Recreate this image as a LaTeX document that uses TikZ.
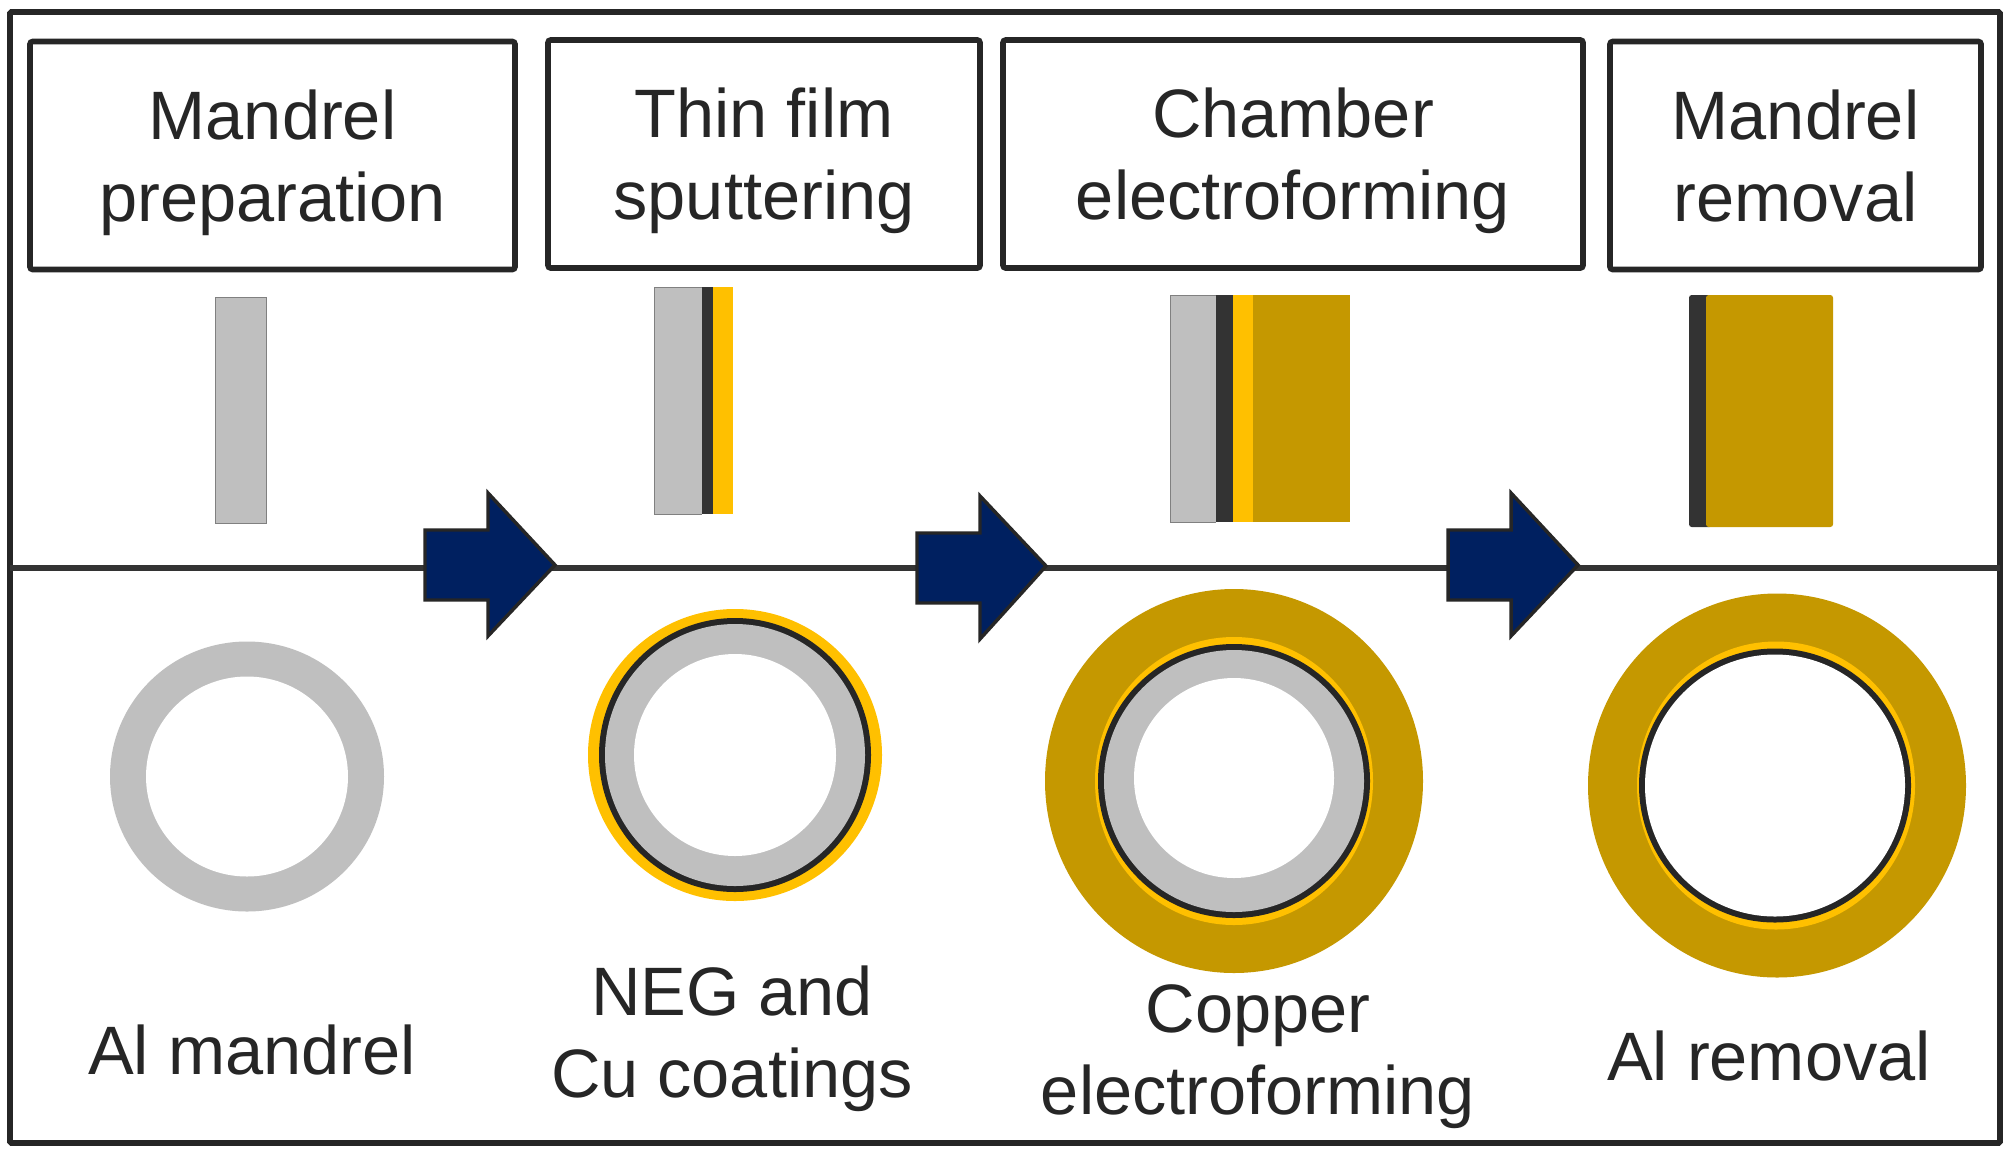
\documentclass[tikz,border=0pt]{standalone}
\usepackage{fontspec}
\setmainfont{Liberation Sans}
\definecolor{mandrelgrey}{RGB}{191,191,191}
\definecolor{negdark}{RGB}{51,51,51}
\definecolor{cuyellow}{RGB}{255,192,0}
\definecolor{cubrown}{RGB}{197,152,0}
\definecolor{arrowblue}{RGB}{0,32,96}
\definecolor{textdark}{RGB}{38,38,38}
\newcommand{\liftline}{\rule{0pt}{48pt}}
\tikzset{
    stepbox/.style={draw=black!85,line width=4.2pt,rounded corners=2pt,fill=white,inner sep=0pt,align=center,text=textdark,font=\fontsize{51.4}{61.5}\selectfont},
    caption/.style={inner sep=0pt,align=center,text=textdark,font=\fontsize{51.4}{61.5}\selectfont},
    flowarrow/.style={fill=arrowblue,draw=black!85,line width=2.6pt,miter limit=10}
}
\begin{document}
\begin{tikzpicture}[
            x=0.75pt,
            y=0.75pt,
            yscale=-1,
            xscale=1
        ]
            \path [use as bounding box,fill=white] (0,0) rectangle (2008,1154);
            \draw [draw=black!85,line width=4.2pt,rounded corners=1pt] (10,12) rectangle (2000,1143);

            % process boxes
            \node (prep) [stepbox,minimum width=363.75pt,minimum height=171pt] at (272.5,155.5) {\liftline Mandrel\\preparation};
            \node (sputter) [stepbox,minimum width=324pt,minimum height=171pt] at (764,154) {\liftline Thin film\\sputtering};
            \node (forming) [stepbox,minimum width=435pt,minimum height=171pt] at (1293,154) {\liftline Chamber\\electroforming};
            \node (removal) [stepbox,minimum width=278.25pt,minimum height=171pt] at (1795.5,155.5) {Mandrel\\removal};

            % divider
            \coordinate (lineL) at (10,567.5);
            \coordinate (lineR) at (2000,567.5);
            \draw [draw=negdark,line width=4.5pt] (lineL) -- (lineR);

            % side views
            \draw [fill=mandrelgrey,draw=gray,line width=0.75pt] (215,297) rectangle (266,523);

            \fill [mandrelgrey] (654,287) rectangle (702,514);
            \fill [negdark] (702,287) rectangle (713,514);
            \fill [cuyellow] (713,287) rectangle (733,514);
            \draw [gray,line width=0.75pt] (702,287) -- (654,287) -- (654,514) -- (702,514);

            \fill [mandrelgrey] (1170,295) rectangle (1216,522);
            \fill [negdark] (1216,295) rectangle (1233,522);
            \fill [cuyellow] (1233,295) rectangle (1253,522);
            \fill [cubrown] (1253,295) rectangle (1350,522);
            \draw [gray,line width=0.75pt] (1216,295) -- (1170,295) -- (1170,522) -- (1216,522);

            \fill [negdark,rounded corners=2pt] (1689,295) rectangle (1712,527);
            \fill [cubrown,rounded corners=2pt] (1706,295) rectangle (1833,527);

            % arrows
            \draw [flowarrow] (425,530) -- (488,530) -- (488,493) -- (555,565) -- (488,636) -- (488,600) -- (425,600) -- cycle;
            \draw [flowarrow] (917,533) -- (980,533) -- (980,496) -- (1046,566) -- (980,639) -- (980,603) -- (917,603) -- cycle;
            \draw [flowarrow] (1448,530) -- (1511,530) -- (1511,493) -- (1578,565) -- (1511,636) -- (1511,600) -- (1448,600) -- cycle;

            % sections
            \fill [mandrelgrey] (247,776.5) circle [x radius=137,y radius=135];
            \fill [white] (247,776.5) circle [x radius=101,y radius=100];

            \fill [cuyellow] (735,755) circle [x radius=147,y radius=146];
            \fill [black!85] (735,755) circle [x radius=136,y radius=137];
            \fill [mandrelgrey] (735,755) circle [x radius=130,y radius=131];
            \fill [white] (735,755) circle [radius=101];

            \fill [cubrown] (1234,781) circle [x radius=189,y radius=192];
            \fill [cuyellow] (1234,781) circle [x radius=139,y radius=144];
            \fill [black!85] (1234,781) circle [x radius=136,y radius=137];
            \fill [mandrelgrey] (1234,781) circle [x radius=130,y radius=131];
            \fill [white] (1234,778) circle [radius=100];

            \fill [cubrown] (1777,785.5) circle [x radius=189,y radius=192];
            \fill [cuyellow] (1776,785.5) circle [x radius=139,y radius=144];
            \fill [black!85] (1775,785.5) circle [x radius=136,y radius=137];
            \fill [white] (1775,785.5) circle [x radius=130,y radius=131];

            % captions
            \node (alm) [caption] at (252,1050) {Al mandrel};
            \node (neg) [caption] at (732,1039) {NEG and\\Cu coatings};
            \node (cop) [caption] at (1258,1057) {Copper\\electroforming};
            \node (alr) [caption] at (1769,1056) {Al removal};
        \end{tikzpicture}
\end{document}
